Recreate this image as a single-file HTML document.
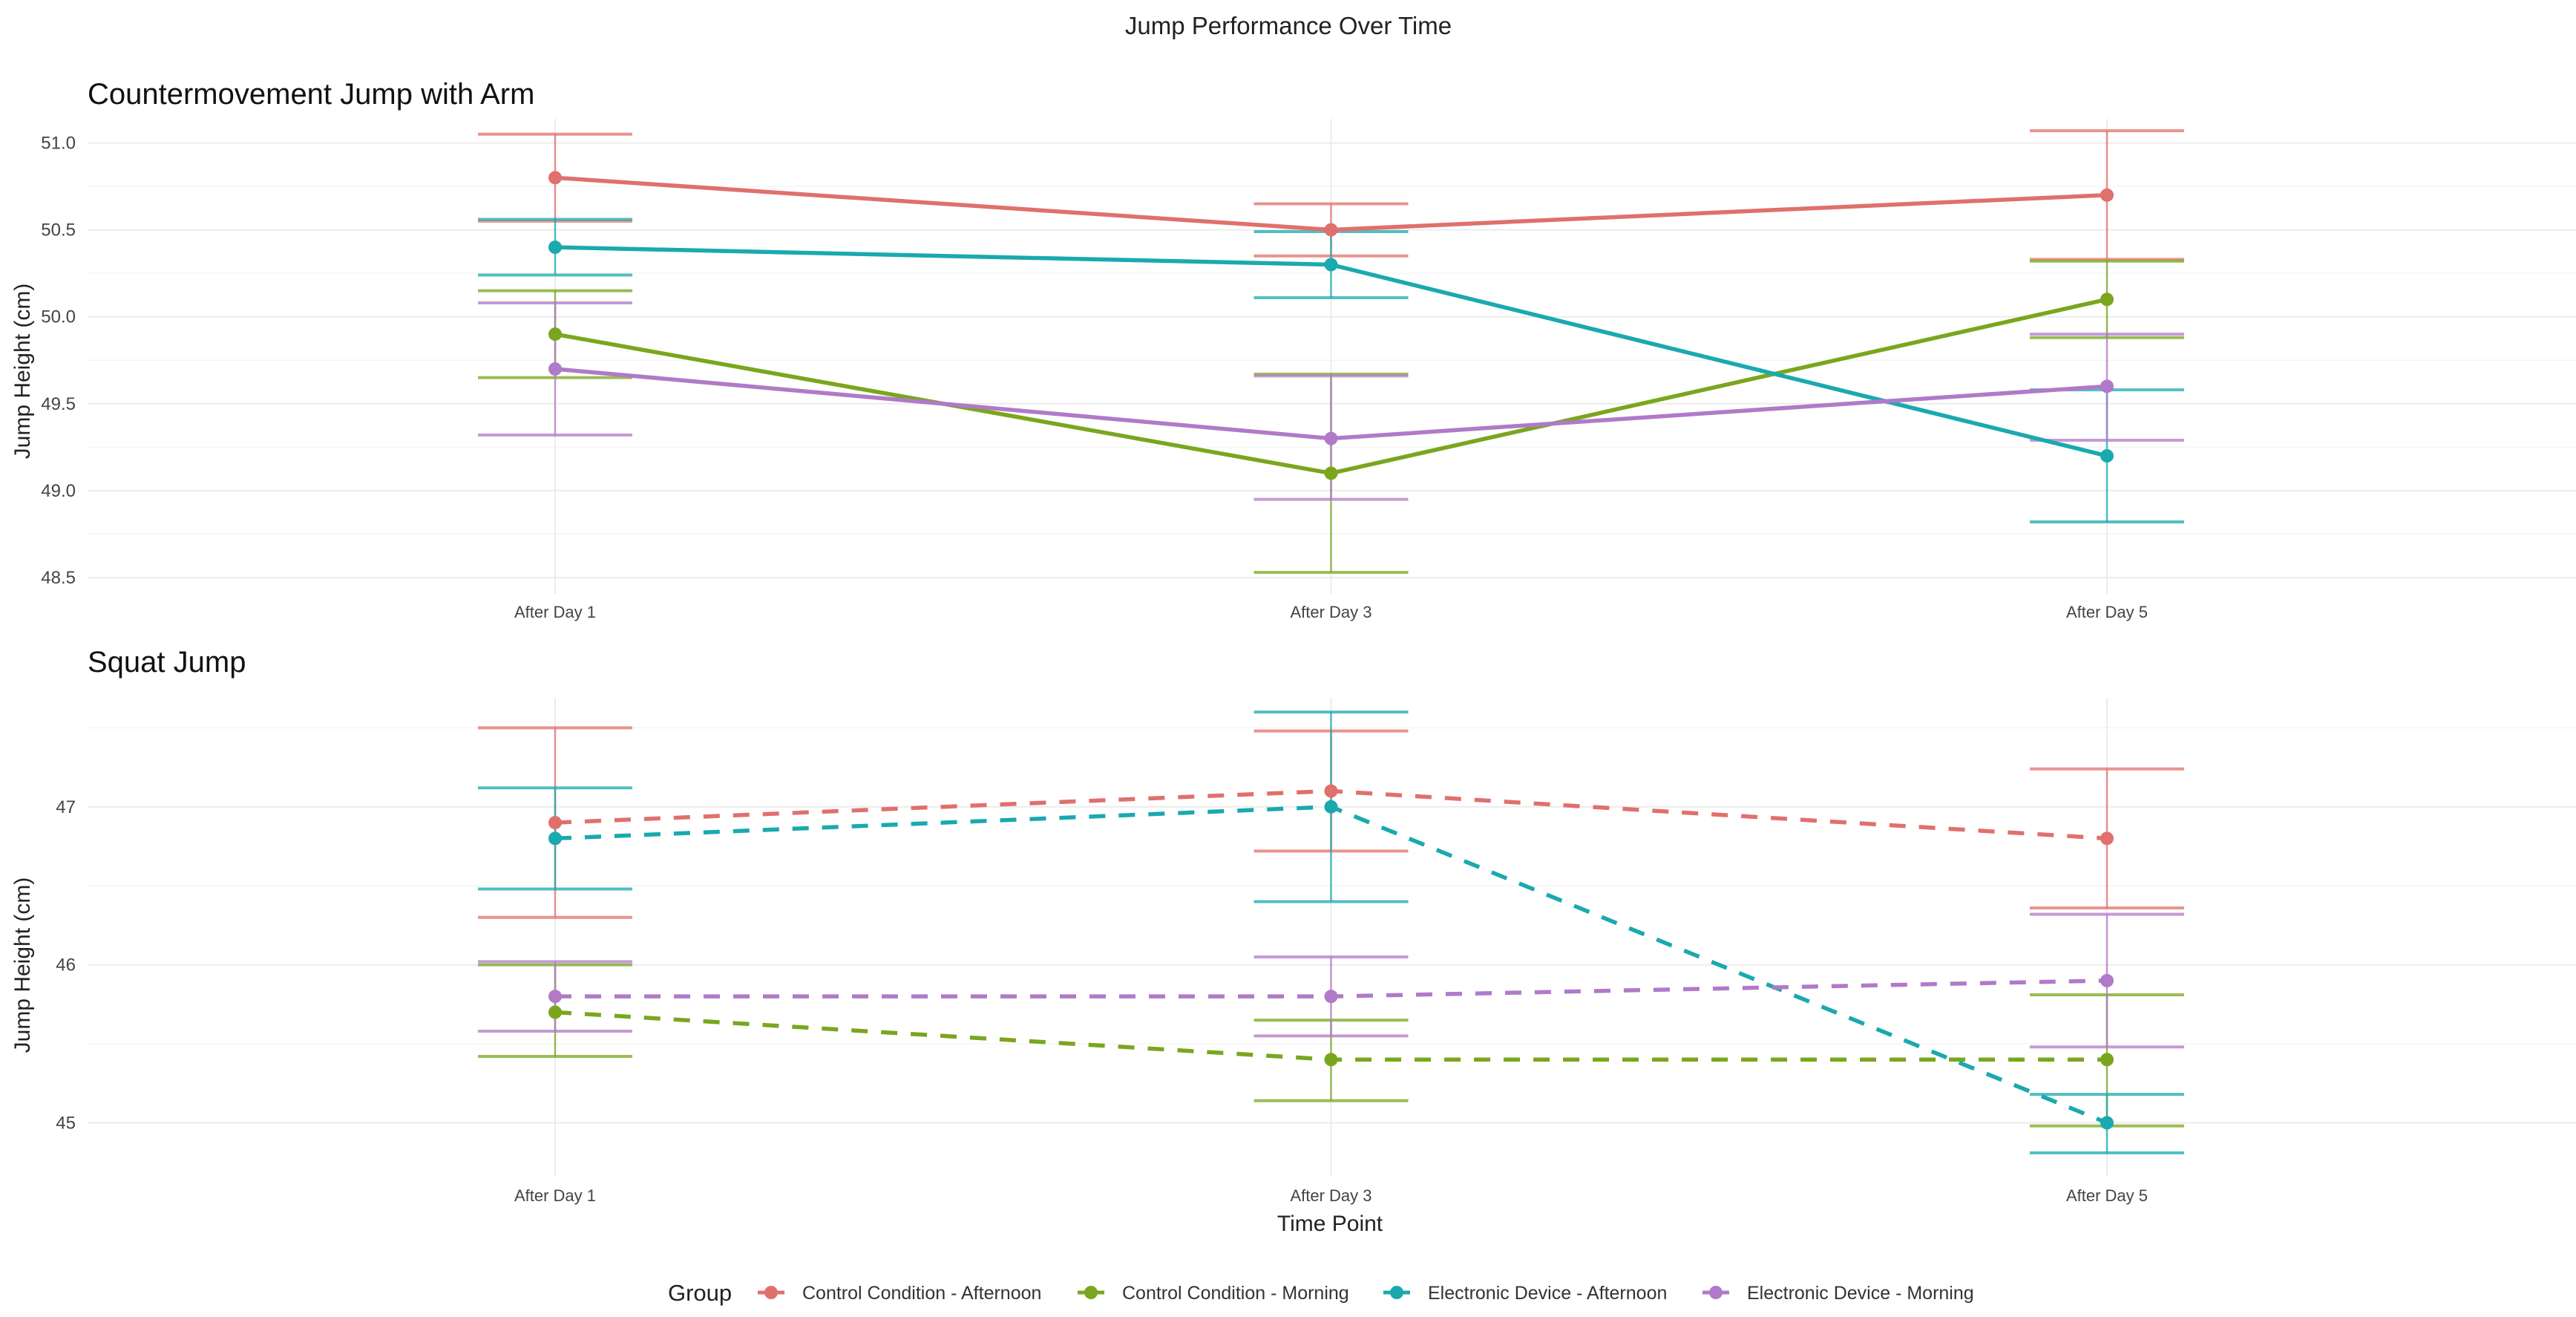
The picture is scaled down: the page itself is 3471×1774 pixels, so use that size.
<!DOCTYPE html>
<html><head><meta charset="utf-8">
<style>
html,body{margin:0;padding:0;background:#fff;}
svg{display:block;font-family:"Liberation Sans",sans-serif;}
</style></head>
<body>
<svg id="chart" width="3471" height="1774" viewBox="0 0 3471 1774" xmlns="http://www.w3.org/2000/svg">
<text x="1736" y="46" font-size="33" text-anchor="middle" fill="#222">Jump Performance Over Time</text>
<text x="118" y="140" font-size="40" fill="#111">Countermovement Jump with Arm</text>
<text x="118" y="905" font-size="40" fill="#111">Squat Jump</text>
<text transform="translate(40,500) rotate(-90)" font-size="30" text-anchor="middle" fill="#222">Jump Height (cm)</text>
<text transform="translate(40,1300) rotate(-90)" font-size="30" text-anchor="middle" fill="#222">Jump Height (cm)</text>
<text x="1792" y="1658" font-size="30" text-anchor="middle" fill="#222">Time Point</text>
<g id="legend">
<text x="900" y="1752" font-size="31" fill="#222">Group</text>
</g>
<g id="top"></g>
<g id="bottom"></g>
</svg>
<script>
const categories = ["After Day 1","After Day 3","After Day 5"];
const groups = ["Control Condition - Afternoon","Control Condition - Morning","Electronic Device - Afternoon","Electronic Device - Morning"];
const colors = ["#E0706C","#7AA61E","#1AA9AE","#B07AC8"];
// Countermovement jump
const cmjMean = [[50.8,50.5,50.7],[49.9,49.1,50.1],[50.4,50.3,49.2],[49.7,49.3,49.6]];
const cmjHi = [[51.05,50.65,51.07],[50.15,49.67,50.32],[50.56,50.49,49.58],[50.08,49.66,49.9]];
const cmjLo = [[50.55,50.35,50.33],[49.65,48.53,49.88],[50.24,50.11,48.82],[49.32,48.95,49.29]];
const cmjTicks = [48.5,49.0,49.5,50.0,50.5,51.0];
// Squat jump
const sjMean = [[46.9,47.1,46.8],[45.7,45.4,45.4],[46.8,47.0,45.0],[45.8,45.8,45.9]];
const sjHi = [[47.5,47.48,47.24],[46.0,45.65,45.81],[47.12,47.6,45.18],[46.02,46.05,46.32]];
const sjLo = [[46.3,46.72,46.36],[45.42,45.14,44.98],[46.48,46.4,44.81],[45.58,45.55,45.48]];
const sjTicks = [45,46,47];

const NS="http://www.w3.org/2000/svg";
function mk(parent,tag,attrs){const e=document.createElementNS(NS,tag);for(const k in attrs)e.setAttribute(k,attrs[k]);parent.appendChild(e);return e;}
const xPos = i => 748 + i*1045.5;

function panel(g, means, his, los, ticks, y0v, y0p, pxPerUnit, top, bottom, dashed, labelY, fmt, prefix){
  const y = v => y0p - (v - y0v)*pxPerUnit;
  const step = ticks[1]-ticks[0];
  for(let t=ticks[0]-step/2; t<=ticks[ticks.length-1]+step/2+1e-9; t+=step/2){
    const yy=y(t); if(yy<top||yy>bottom) continue;
    const major = ticks.some(v=>Math.abs(v-t)<1e-6);
    const l=mk(g,'line',{x1:118,x2:3471,y1:yy,y2:yy,stroke:major?'#ececec':'#f5f5f5','stroke-width':major?2:1.5});
    
    
  }
  categories.forEach((c,i)=>{
    const l=mk(g,'line',{x1:xPos(i),x2:xPos(i),y1:top,y2:bottom,stroke:'#ececec','stroke-width':2});
    
    
    const t=mk(g,'text',{x:xPos(i),y:labelY,'font-size':22,'text-anchor':'middle',fill:'#444'});
    t.textContent=c;
    
    
  });
  ticks.forEach(v=>{
    const t=mk(g,'text',{x:102,y:y(v)+8,'font-size':24,'text-anchor':'end',fill:'#444'});
    t.textContent=fmt(v);
    
    
  });
  means.forEach((s,gi)=>{
    s.forEach((m,i)=>{
      const x=xPos(i), hi=y(his[gi][i]), lo=y(los[gi][i]);
      const eb=mk(g,'g',{stroke:colors[gi],'stroke-opacity':0.75});
      
      
      mk(eb,'line',{x1:x,x2:x,y1:hi,y2:lo,'stroke-width':2.5});
      mk(eb,'line',{x1:x-104,x2:x+104,y1:hi,y2:hi,'stroke-width':4});
      mk(eb,'line',{x1:x-104,x2:x+104,y1:lo,y2:lo,'stroke-width':4});
    });
  });
  means.forEach((s,gi)=>{
    const pts=s.map((m,i)=>xPos(i)+','+y(m)).join(' ');
    const pl=mk(g,'polyline',{points:pts,fill:'none',stroke:colors[gi],'stroke-width':5.5,'stroke-dasharray':dashed?'22 18':'none'});
    
    
    s.forEach((m,i)=>{
      const c=mk(g,'circle',{cx:xPos(i),cy:y(m),r:9,fill:colors[gi]});
      
      
    });
  });
}
panel(document.getElementById('top'), cmjMean, cmjHi, cmjLo, cmjTicks, 51.0, 192.5, 234.2, 160, 800, false, 832, v=>v.toFixed(1), 'cmj');
panel(document.getElementById('bottom'), sjMean, sjHi, sjLo, sjTicks, 47, 1086.8, 212.8, 940, 1585, true, 1618, v=>String(v), 'sj');

const lg=document.getElementById('legend');
const markerX=[1039,1470,1882,2312];
groups.forEach((name,gi)=>{
  const e=mk(lg,'g',{});
  
  
  mk(e,'line',{x1:markerX[gi]-18,x2:markerX[gi]+18,y1:1741,y2:1741,stroke:colors[gi],'stroke-width':5});
  mk(e,'circle',{cx:markerX[gi],cy:1741,r:9,fill:colors[gi]});
  const t=mk(e,'text',{x:markerX[gi]+42,y:1750,'font-size':25,fill:'#333'});
  t.textContent=name;
});
</script>
</body></html>
